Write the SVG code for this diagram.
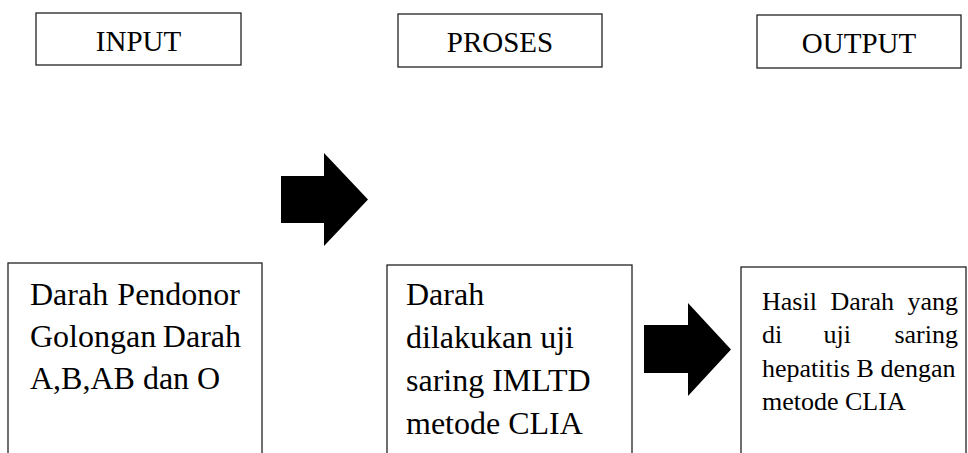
<svg xmlns="http://www.w3.org/2000/svg" width="968" height="453" viewBox="0 0 968 453">
<style>
.box{fill:#fff;stroke:#222;stroke-width:1.3}
.hd{font-family:"Liberation Serif","Times New Roman",serif;font-size:29px;fill:#000;text-anchor:middle}
.bd{font-family:"Liberation Serif","Times New Roman",serif;font-size:32px;fill:#000}
.sm{font-family:"Liberation Serif","Times New Roman",serif;font-size:26px;fill:#000}
.arrow{fill:#000}
</style>
<rect width="968" height="453" fill="#fff"/>
<g id="input-header">
<rect class="box" x="36" y="13" width="205" height="52"/>
<text class="hd" x="138.5" y="51">INPUT</text>
</g>
<g id="proses-header">
<rect class="box" x="398" y="14" width="204" height="53"/>
<text class="hd" x="500" y="52">PROSES</text>
</g>
<g id="output-header">
<rect class="box" x="757" y="15" width="204" height="53"/>
<text class="hd" x="859" y="53">OUTPUT</text>
</g>
<g id="input-box">
<rect class="box" x="8" y="263" width="254" height="200"/>
<text class="bd" y="305"><tspan x="30">Darah</tspan><tspan x="240" text-anchor="end">Pendonor</tspan></text>
<text class="bd" y="347"><tspan x="30">Golongan</tspan><tspan x="241" text-anchor="end">Darah</tspan></text>
<text class="bd" x="30" y="389">A,B,AB dan O</text>
</g>
<g id="proses-box">
<rect class="box" x="387" y="265" width="245" height="200"/>
<text class="bd" x="406" y="305">Darah</text>
<text class="bd" x="406" y="348">dilakukan uji</text>
<text class="bd" x="406" y="391">saring IMLTD</text>
<text class="bd" x="406" y="434">metode CLIA</text>
</g>
<g id="output-box">
<rect class="box" x="741" y="267" width="225" height="200"/>
<text class="sm" y="310"><tspan x="762">Hasil</tspan><tspan x="830.5">Darah</tspan><tspan x="958" text-anchor="end">yang</tspan></text>
<text class="sm" y="343"><tspan x="762">di</tspan><tspan x="823.5">uji</tspan><tspan x="958" text-anchor="end">saring</tspan></text>
<text class="sm" x="762" y="377">hepatitis B dengan</text>
<text class="sm" x="762" y="410">metode CLIA</text>
</g>
<g id="connectors">
<polygon class="arrow" points="281,176 324,176 324,153 368,199.5 324,246 324,223 281,223"/>
<polygon class="arrow" points="644,325 688,325 688,303 731,349.5 688,396 688,373 644,373"/>
</g>
</svg>
